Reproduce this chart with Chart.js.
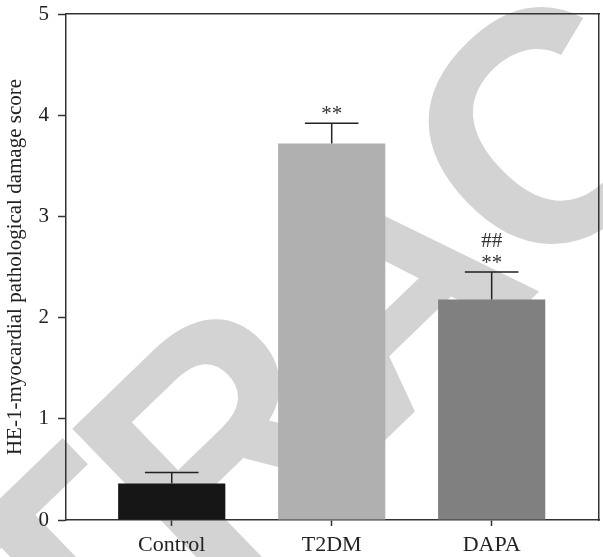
<!DOCTYPE html>
<html>
<head>
<meta charset="utf-8">
<script src="https://cdn.jsdelivr.net/npm/chart.js@4.4.1/dist/chart.umd.min.js"></script>
<style>
html,body{margin:0;padding:0;background:#fff;}
#wrap{width:603px;height:557px;}
</style>
</head>
<body>
<div id="wrap"><canvas id="c" width="603" height="557"></canvas></div>
<script>
const categories = ['Control', 'T2DM', 'DAPA'];
const meanScores = [0.36, 3.72, 2.18];
const errorScores = [0.11, 0.20, 0.27];
const sigVsControl = ['', '**', '**'];
const sigVsT2DM = ['', '', '##'];
const yTickValues = [0, 1, 2, 3, 4, 5];
const barColors = ['#161616', '#b0b0b0', '#808080'];
const yTitle = 'HE-1-myocardial pathological damage score';
const watermarkText = 'RETRACTED';

const SERIF = "'Liberation Serif', 'Times New Roman', serif";
const AXIS = '#333333';

const watermarkPlugin = {
  id: 'watermark',
  beforeDraw(chart) {
    const ctx = chart.ctx;
    ctx.save();
    ctx.fillStyle = '#ffffff';
    ctx.fillRect(0, 0, chart.width, chart.height);
    const size = 328;
    ctx.font = 'bold ' + size + 'px "Liberation Sans", Arial, sans-serif';
    if ('letterSpacing' in ctx) ctx.letterSpacing = '-12px';
    ctx.fillStyle = '#d3d3d3';
    ctx.textAlign = 'left';
    ctx.textBaseline = 'alphabetic';
    const prefix = ctx.measureText(watermarkText.slice(0, 4)).width;
    ctx.translate(375, 450);
    ctx.rotate(-44 * Math.PI / 180);
    ctx.fillText(watermarkText, -prefix, 0);
    ctx.restore();
  }
};

const errorPlugin = {
  id: 'errorbars',
  afterDatasetsDraw(chart) {
    const ctx = chart.ctx;
    const y = chart.scales.y;
    const meta = chart.getDatasetMeta(0);
    ctx.save();
    ctx.strokeStyle = '#222222';
    ctx.lineWidth = 1.5;
    meta.data.forEach((bar, i) => {
      const cx = bar.x;
      const base = y.getPixelForValue(meanScores[i]);
      const top = y.getPixelForValue(meanScores[i] + errorScores[i]);
      const half = bar.width * 0.25;
      ctx.beginPath();
      ctx.moveTo(cx, base);
      ctx.lineTo(cx, top);
      ctx.moveTo(cx - half, top);
      ctx.lineTo(cx + half, top);
      ctx.stroke();
      ctx.fillStyle = '#333333';
      ctx.font = '21px ' + SERIF;
      ctx.textAlign = 'center';
      ctx.textBaseline = 'alphabetic';
      if (sigVsControl[i]) ctx.fillText(sigVsControl[i], cx, top - 3);
      if (sigVsT2DM[i]) ctx.fillText(sigVsT2DM[i], cx, top - 25);
    });
    ctx.restore();
  }
};

const data = {
  datasets: [{
    data: categories.map((c, i) => ({ x: i, y: meanScores[i] })),
    backgroundColor: barColors,
    borderWidth: 0,
    categoryPercentage: 1.0,
    barPercentage: 0.67,
    xAxisID: 'x',
    yAxisID: 'y'
  }]
};

new Chart(document.getElementById('c'), {
  type: 'bar',
  data: data,
  options: {
    responsive: false,
    devicePixelRatio: 1,
    animation: false,
    layout: { padding: { top: 14, right: 4, left: 0, bottom: 0 } },
    plugins: { legend: { display: false }, tooltip: { enabled: false } },
    scales: {
      x: {
        type: 'linear',
        position: 'bottom',
        min: -0.661,
        max: 2.671,
        offset: false,
        afterBuildTicks: (s) => { s.ticks = categories.map((c, i) => ({ value: i })); },
        afterFit: (s) => { s.height = 37; s.paddingLeft = 0; s.paddingRight = 0; },
        grid: { display: true, offset: false, drawOnChartArea: false, drawTicks: true, tickLength: 6, tickColor: AXIS, tickWidth: 1.5 },
        border: { display: true, color: AXIS, width: 1.5 },
        ticks: {
          padding: 6,
          color: '#222222',
          font: { family: SERIF, size: 22 },
          maxRotation: 0,
          autoSkip: false,
          callback: (v) => categories[v]
        }
      },
      y: {
        type: 'linear',
        position: 'left',
        min: 0,
        max: 5,
        afterBuildTicks: (s) => { s.ticks = yTickValues.map(v => ({ value: v })); },
        afterFit: (s) => { s.width = 66; s.paddingTop = 0; s.paddingBottom = 0; },
        grid: { display: true, drawOnChartArea: false, drawTicks: true, tickLength: 8, tickColor: AXIS, tickWidth: 1.5 },
        border: { display: true, color: AXIS, width: 1.5 },
        ticks: {
          padding: 9,
          color: '#222222',
          font: { family: SERIF, size: 21 }
        },
        title: {
          display: true,
          text: yTitle,
          color: '#222222',
          font: { family: SERIF, size: 21 },
          padding: { top: 3, bottom: 0 }
        }
      },
      xTop: {
        type: 'linear',
        position: 'top',
        afterFit: (s) => { s.height = 0; s.paddingLeft = 0; s.paddingRight = 0; },
        grid: { display: true, drawOnChartArea: false, drawTicks: false },
        border: { display: true, color: AXIS, width: 1.5 },
        ticks: { display: false }
      },
      yRight: {
        type: 'linear',
        position: 'right',
        afterFit: (s) => { s.width = 0; s.paddingTop = 0; s.paddingBottom = 0; },
        grid: { display: true, drawOnChartArea: false, drawTicks: false },
        border: { display: true, color: AXIS, width: 1.5 },
        ticks: { display: false }
      }
    }
  },
  plugins: [watermarkPlugin, errorPlugin]
});
</script>
</body>
</html>
